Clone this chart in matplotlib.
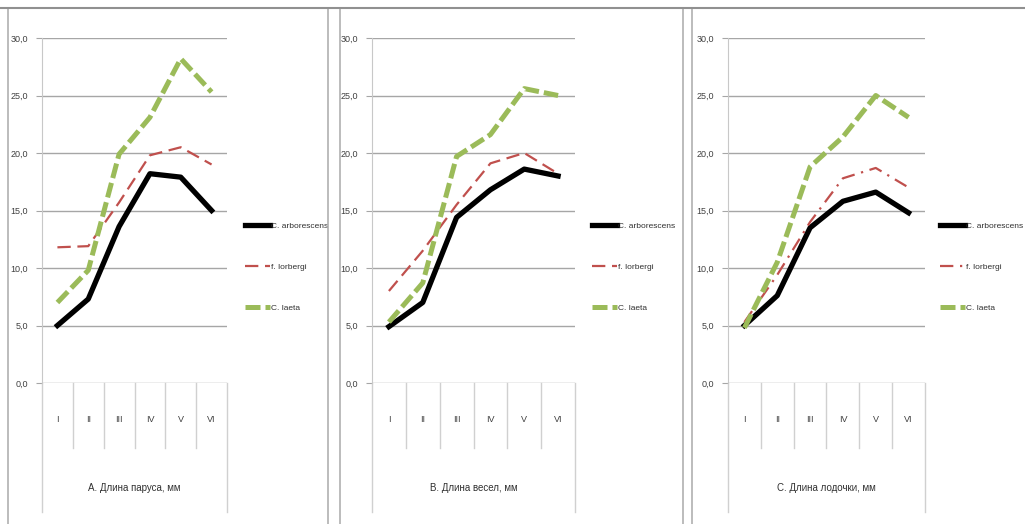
import matplotlib
matplotlib.use('Agg')
import matplotlib.pyplot as plt
from matplotlib.patches import Rectangle
from matplotlib.transforms import blended_transform_factory

# categories (stages) shared by all three panels
categories = ['I', 'II', 'III', 'IV', 'V', 'VI']
series_names = ['C. arborescens', 'f. lorbergi', 'C. laeta']
panel_titles = ['А. Длина паруса, мм', 'B. Длина весел, мм', 'C. Длина лодочки, мм']

# A. sail length
sail_arb = [5.0, 7.3, 13.6, 18.2, 17.9, 15.0]
sail_lorb = [11.8, 11.9, 15.7, 19.8, 20.5, 19.0]
sail_laeta = [7.0, 9.8, 19.9, 23.1, 28.2, 25.3]

# B. oar length
oar_arb = [4.9, 7.0, 14.4, 16.8, 18.6, 18.0]
oar_lorb = [8.0, 11.5, 15.5, 19.1, 20.0, 18.2]
oar_laeta = [5.3, 8.7, 19.7, 21.6, 25.6, 25.0]

# C. keel length
keel_arb = [5.0, 7.6, 13.5, 15.8, 16.6, 14.8]
keel_lorb = [5.3, 9.4, 14.0, 17.8, 18.7, 17.0]
keel_laeta = [4.8, 10.5, 18.8, 21.4, 25.0, 23.1]

yticks = [0, 5, 10, 15, 20, 25, 30]
ytick_labels = ['0,0', '5,0', '10,0', '15,0', '20,0', '25,0', '30,0']

panels = [
    (sail_arb, sail_lorb, sail_laeta),
    (oar_arb, oar_lorb, oar_laeta),
    (keel_arb, keel_lorb, keel_laeta),
]

FONT = ['Liberation Sans', 'DejaVu Sans']
W, H = 1025, 524
fig = plt.figure(figsize=(W / 100, H / 100), dpi=100)
fig.patch.set_facecolor('white')

# pixel layout: panel box (left, right), plot area (left, right), legend start
boxes = [(8, 328), (340, 683), (692, 1030)]
plot_x = [(42, 227), (372, 575), (728, 925)]
legend_x = [242, 589, 937]
top_px, bot_px = 38, 383
red_styles = ['--', '--', '-.']

for i, (arb, lorb, laeta) in enumerate(panels):
    bx0, bx1 = boxes[i]
    fig.patches.append(Rectangle((bx0 / W, -0.01), (bx1 - bx0) / W, (H - 8) / H + 0.01,
                                 transform=fig.transFigure, fill=False,
                                 edgecolor='#b0b0b0', linewidth=1.2, zorder=0))
    x0, x1 = plot_x[i]
    ax = fig.add_axes([x0 / W, (H - bot_px) / H, (x1 - x0) / W, (bot_px - top_px) / H])
    xs = range(len(categories))

    ax.plot(xs, arb, color='black', lw=3.8, label=series_names[0])
    ax.plot(xs, lorb, color='#c0504d', lw=1.6, linestyle=red_styles[i],
            dashes=(6, 3) if red_styles[i] == '--' else (6, 3, 1, 3), label=series_names[1])
    ax.plot(xs, laeta, color='#9bbb59', lw=3.6, linestyle='--', dashes=(3, 1),
            label=series_names[2])

    ax.set_xlim(-0.5, 5.5)
    ax.set_ylim(0, 30)
    ax.set_yticks(yticks)
    ax.set_yticklabels(ytick_labels, fontsize=6.5, family=FONT, color='#404040')
    ax.yaxis.grid(True, color='#a6a6a6', lw=1)
    ax.set_axisbelow(True)
    ax.tick_params(axis='y', length=4, color='#a6a6a6', pad=6)
    ax.set_xticks([])
    for s in ['top', 'right', 'bottom']:
        ax.spines[s].set_visible(False)
    ax.spines['left'].set_color('#c8c8c8')
    ax.set_facecolor('none')

    # category separators and labels under the axis
    tr = blended_transform_factory(ax.transData, ax.transAxes)
    for b in range(1, len(categories)):
        ax.plot([b - 0.5, b - 0.5], [0, -0.188], transform=tr, color='#d0d0d0',
                lw=1, clip_on=False)
    for e in (-0.5, 5.5):
        ax.plot([e, e], [0, -0.374], transform=tr, color='#d0d0d0', lw=1, clip_on=False)
    for k, lab in enumerate(categories):
        ax.text(k, -0.107, lab, transform=tr, ha='center', va='center', fontsize=6.5,
                family=FONT, color='#404040')
    ax.text(0.5, -0.304, panel_titles[i], transform=ax.transAxes, ha='center',
            va='center', fontsize=7, family=FONT, color='#303030')

    leg_x = (legend_x[i] - x0) / (x1 - x0)
    ax.legend(loc='center left', bbox_to_anchor=(leg_x, 0.336), frameon=False,
              prop={'family': FONT, 'size': 6}, labelspacing=4.0, handlelength=3.0,
              handletextpad=0.1, borderaxespad=0, labelcolor='#303030')

fig.add_artist(plt.Line2D([0, 1], [(H - 8) / H] * 2, color='#909090', lw=1.5))
fig.savefig('out.png', dpi=100, facecolor='white')
